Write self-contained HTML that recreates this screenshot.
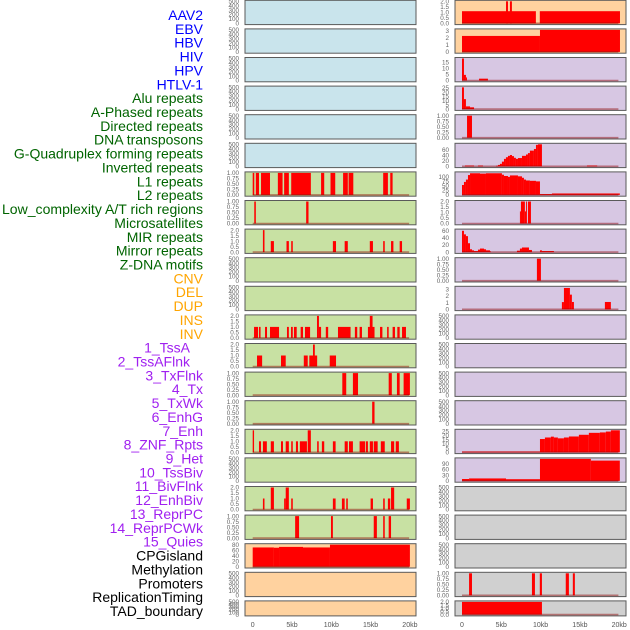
<!DOCTYPE html>
<html><head><meta charset="utf-8"><style>
html,body{margin:0;padding:0;background:#fff;}
svg{display:block;font-family:"Liberation Sans",sans-serif;}
</style></head><body>
<svg id="chart" width="630" height="630" viewBox="0 0 630 630" xmlns="http://www.w3.org/2000/svg"></svg>
<script>
// ---------- track labels ----------
const labels = ["AAV2","EBV","HBV","HIV","HPV","HTLV-1","Alu repeats","A-Phased repeats","Directed repeats","DNA transposons","G-Quadruplex forming repeats","Inverted repeats","L1 repeats","L2 repeats","Low_complexity A/T rich regions","Microsatellites","MIR repeats","Mirror repeats","Z-DNA motifs","CNV","DEL","DUP","INS","INV","1_TssA","2_TssAFlnk","3_TxFlnk","4_Tx","5_TxWk","6_EnhG","7_Enh","8_ZNF_Rpts","9_Het","10_TssBiv","11_BivFlnk","12_EnhBiv","13_ReprPC","14_ReprPCWk","15_Quies","CPGisland","Methylation","Promoters","ReplicationTiming","TAD_boundary"];
const labelGroups = ["virus","virus","virus","virus","virus","virus","repeat","repeat","repeat","repeat","repeat","repeat","repeat","repeat","repeat","repeat","repeat","repeat","repeat","sv","sv","sv","sv","sv","chrom","chrom","chrom","chrom","chrom","chrom","chrom","chrom","chrom","chrom","chrom","chrom","chrom","chrom","chrom","other","other","other","other","other"];

// ---------- tick sets ----------
const t500 = [0,100,200,300,400,500];
const t1 = [0,0.25,0.5,0.75,1];
const t2 = [0,0.5,1,1.5,2];
const t80 = [0,20,40,60,80];
const t3 = [0,1,2,3];
const t15 = [0,5,10,15];
const t25 = [0,5,10,15,20,25];
const t60 = [0,20,40,60];
const t100 = [0,25,50,75,100];
const t90 = [0,30,60,90];
const xTicks = [0,5,10,15,20];
const xTickLabels = ["0","5kb","10kb","15kb","20kb"];

// ---------- segment data: [startKb, endKb, value] ----------
const L7 = [[0,0.2,1],[0.4,0.8,1],[1.06,2.2,1],[3.2,3.8,1],[4.0,4.6,1],[4.9,7.4,1],[8.7,9.1,1],[9.9,10.5,1],[11.5,12.1,1],[12.2,12.8,1],[16.6,17.2,1],[17.5,17.8,1]];
const L8 = [[0.2,0.4,1],[6.8,7.1,1]];
const L9 = [[1.3,1.5,2],[2.3,2.7,1],[4.3,4.6,1],[4.9,5.1,1],[10.2,10.6,1],[11.7,12.1,1],[14.9,15.3,1],[16.6,16.8,1],[17.6,17.9,1],[18.7,19.0,1]];
const L12 = [[0.17,0.68,1],[0.8,1.0,1],[1.57,1.82,1],[2.2,3.35,1],[4.36,4.6,1],[4.87,5.1,1],[5.25,5.6,1],[6.1,6.4,1],[6.65,7.3,1],[8.18,8.43,2],[8.43,8.7,1],[9.3,9.6,1],[10.85,12.45,1],[13.0,13.3,1],[13.6,13.9,1],[14.66,15.5,1],[14.9,15.25,2],[16.2,16.5,1],[17.1,17.3,1],[17.8,18.1,1],[18.4,18.7,1],[19.0,19.5,1]];
const L13 = [[0.55,1.2,1],[3.6,4.2,1],[6.5,7.0,1],[7.2,8.2,1],[7.67,7.9,2],[9.8,10.6,1]];
const L14 = [[11.4,11.9,1],[12.75,13.4,1],[17.3,17.7,1],[18.35,18.7,1],[19.2,20.0,1]];
const L15 = [[15.2,15.5,1]];
const L16 = [[0,0.17,2],[0.8,1.06,1],[1.3,1.8,1],[2.3,2.7,1],[3.6,3.85,1],[4.2,4.6,1],[4.9,5.1,1],[5.5,5.76,1],[6.0,6.9,1],[7.0,7.4,2],[8.2,8.4,1],[8.8,9.1,1],[10.2,10.55,1],[11.7,12.1,1],[12.25,12.75,1],[13.6,14.3,1],[14.4,14.66,1],[14.9,15.3,1],[15.4,15.9,1],[16.3,16.8,1],[17.6,18.0,1],[18.2,18.6,1]];
const L18 = [[1.3,1.5,1],[2.3,2.7,2],[4.0,4.2,1],[4.2,4.6,2],[4.9,5.1,1],[10.2,10.55,1],[11.35,11.7,1],[11.9,12.1,1],[15.0,15.3,1],[16.6,16.8,1],[17.2,17.5,1],[17.6,18.0,2],[19.6,20.0,1]];
const L19 = [[5.4,5.9,1],[9.96,10.2,1],[15.4,15.8,1],[16.6,16.8,1],[17.3,17.6,1]];
const L20 = [[0,2.7,70],[2.7,3.35,69],[3.35,6.4,72],[6.4,9.83,70],[9.83,20,80]];
const R1 = [[0,9.4,1.1],[9.9,20.1,1.1],[5.6,5.85,2],[6.1,6.35,2]];
const R2 = [[0,9.92,2.25],[9.92,20.1,3.1]];
const R3 = [[0,0.25,18],[0.25,0.5,4.6],[0.5,0.63,2.5],[2.17,3.3,1.5]];
const R4 = [[0,0.25,25.7],[0.25,0.5,11.8],[0.5,1.02,3.2],[1.02,1.53,2.1]];
const R5 = [[0.64,1.27,1]];
const R6 = [[0.38,1.53,3],[2.03,2.67,3],[4.32,4.58,2],[4.58,4.83,5],[4.83,5.08,9],[5.08,5.34,17],[5.34,5.59,27],[5.59,5.85,33],[5.85,6.1,38],[6.1,6.36,41],[6.36,6.61,37],[6.61,6.86,31],[6.86,7.12,27],[7.12,7.63,30],[7.63,8.14,38],[8.14,8.39,43],[8.39,8.64,48],[8.64,9.15,57],[9.15,9.41,63],[9.41,9.66,78],[9.66,10.17,80],[15.9,17.2,3]];
const R7 = [[0,0.25,55],[0.25,0.5,72],[0.5,0.76,85],[0.76,1.02,110],[1.02,2.29,120],[2.29,3.05,118],[3.05,5.08,120],[5.08,5.34,112],[5.34,5.85,105],[5.85,6.1,100],[6.1,7.12,108],[7.12,7.63,103],[7.63,7.88,95],[7.88,8.14,85],[8.14,8.64,80],[8.64,9.41,78],[9.41,9.92,75],[9.92,11.44,5],[11.44,20.08,8]];
const R8 = [[7.37,7.5,1.1],[7.5,8.0,2],[8.0,8.14,1.1],[8.14,8.26,2],[8.39,8.77,2]];
const R9 = [[0,0.25,60],[0.25,0.5,50],[0.5,0.76,45],[0.76,1.02,25],[1.02,1.27,8],[1.27,1.53,5],[1.53,2.03,3],[2.03,2.29,7],[2.29,2.8,10],[2.8,3.05,8],[3.05,3.56,5],[3.56,3.69,2],[6.99,7.37,4],[7.37,7.63,10],[7.63,8.52,13],[8.52,8.9,6],[9.92,10.17,5],[10.17,11.69,3]];
const R10 = [[9.53,10.04,1]];
const R11 = [[12.71,12.97,1.08],[12.97,13.73,3.2],[13.73,13.98,2.2],[13.98,14.24,1.1],[18.18,18.94,1.1]];
const R16 = [[0,9.92,1],[9.92,10.55,15.7],[10.55,11.31,17.5],[11.31,11.69,18.5],[11.69,12.2,17.5],[12.2,12.97,16.5],[12.97,13.6,17.5],[13.6,14.87,18.7],[14.87,16.14,20.7],[16.14,17.54,23],[17.54,18.3,23.5],[18.3,18.94,24.5],[18.94,20.08,26]];
const R17 = [[0,0.9,10],[0.9,5.6,13],[5.6,9.92,9],[9.92,16.4,116],[16.4,20.08,107]];
const R21 = [[0.9,1.27,1],[8.9,9.28,1],[9.9,10.17,1],[13.2,13.6,1],[14.1,14.36,1]];
const R22 = [[0,10.17,2]];

// ---------- panel configuration (data ref, ticks, y max, bg group) ----------
const leftPanels = [
 [[],t500,500,"virus"],[[],t500,500,"virus"],[[],t500,500,"virus"],[[],t500,500,"virus"],[[],t500,500,"virus"],[[],t500,500,"virus"],
 [L7,t1,1,"repeat"],[L8,t1,1,"repeat"],[L9,t2,2,"repeat"],[[],t500,500,"repeat"],[[],t500,500,"repeat"],[L12,t2,2,"repeat"],[L13,t2,2,"repeat"],
 [L14,t1,1,"repeat"],[L15,t1,1,"repeat"],[L16,t2,2,"repeat"],[[],t500,500,"repeat"],[L18,t2,2,"repeat"],[L19,t1,1,"repeat"],
 [L20,t80,80,"sv"],[[],t500,500,"sv"],[[],t500,500,"sv"]
];
const rightPanels = [
 [R1,t2,2,"sv"],[R2,t3,3.1,"sv"],[R3,t15,18,"chrom"],[R4,t25,26,"chrom"],[R5,t1,1,"chrom"],[R6,t60,80,"chrom"],[R7,t100,122,"chrom"],
 [R8,t2,2,"chrom"],[R9,t60,62,"chrom"],[R10,t1,1,"chrom"],[R11,t3,3.3,"chrom"],[[],t500,500,"chrom"],[[],t500,500,"chrom"],[[],t500,500,"chrom"],
 [[],t500,500,"chrom"],[R16,t25,26,"chrom"],[R17,t90,116,"chrom"],
 [[],t500,500,"other"],[[],t500,500,"other"],[[],t500,500,"other"],[R21,t1,1,"other"],[R22,t2,2,"other"]
];

const bgColor = {virus:"#c9e4ec",repeat:"#c8e1a3",sv:"#ffd29f",chrom:"#d7c7e3",other:"#d0d0d0"};
const txtColor = {virus:"#0000ff",repeat:"#006400",sv:"#ffa500",chrom:"#a020f0",other:"#000000"};

const NS = "http://www.w3.org/2000/svg";
const svg = document.getElementById("chart");
function mk(tag, attrs, parent){ const e=document.createElementNS(NS,tag); for(const k in attrs) e.setAttribute(k,attrs[k]); (parent||svg).appendChild(e); return e; }

// labels
labels.forEach((t,i)=>{
  let x = 203;
  if (t==="1_TssA"||t==="2_TssAFlnk") x = 190;
  const e = mk("text",{x:x,y:(20+13.86*i).toFixed(1),"text-anchor":"end","font-size":"14",fill:txtColor[labelGroups[i]]});
  e.textContent = t;
  if (t.startsWith("Low_complexity")) { e.setAttribute("textLength","201"); e.setAttribute("lengthAdjust","spacingAndGlyphs"); }
  
  
});

function fmt(v, ticks){
  const step = ticks[1]-ticks[0];
  if (step===0.25) return v.toFixed(2);
  if (step===0.5) return v.toFixed(1);
  return String(v);
}

function drawColumn(panels, px0, px1, x0kb){
  const xs = kb => x0kb + 7.86*kb;
  panels.forEach((p,i)=>{
    const [data,ticks,ymax,grp] = p;
    const top = 0.3 + 28.6*i;
    const h = (i===21) ? 15 : 24.3;
    const bottom = top + h;
    const y0 = bottom - 1.3, y1 = top + 1;
    const ys = v => y0 - (v/ymax)*(y0-y1);
    const g = mk("g",{});
    
    
    const r = mk("rect",{x:px0,y:top,width:px1-px0,height:h,fill:bgColor[grp],stroke:"#5a5a5a","stroke-width":"1"},g);
    
    
    data.forEach(d=>{
      const b = mk("rect",{x:xs(d[0]).toFixed(2),y:ys(d[2]).toFixed(2),width:Math.max(0.8,xs(d[1])-xs(d[0])).toFixed(2),height:(y0-ys(d[2])).toFixed(2),fill:"#ff0000"},g);
      
      
    });
    if (data.length) {
      const bl = mk("line",{x1:xs(0),x2:xs(19.9),y1:y0,y2:y0,stroke:"rgba(140,0,0,0.45)","stroke-width":"1.6"},g);
      
      
    }
    ticks.forEach(tv=>{
      const t = mk("text",{x:px0-6,y:(ys(tv)+2.2).toFixed(2),"text-anchor":"end","font-size":"6.3",fill:"#666"},g);
      t.textContent = fmt(tv,ticks);
      
      
    });
  });
  xTicks.forEach((v,k)=>{
    const t = mk("text",{x:xs(v).toFixed(1),y:627,"text-anchor":"middle","font-size":"7",fill:"#555"});
    t.textContent = xTickLabels[k];
    
    
  });
}
drawColumn(leftPanels, 245, 416, 252.7);
drawColumn(rightPanels, 455, 626, 462);
</script>
</body></html>
